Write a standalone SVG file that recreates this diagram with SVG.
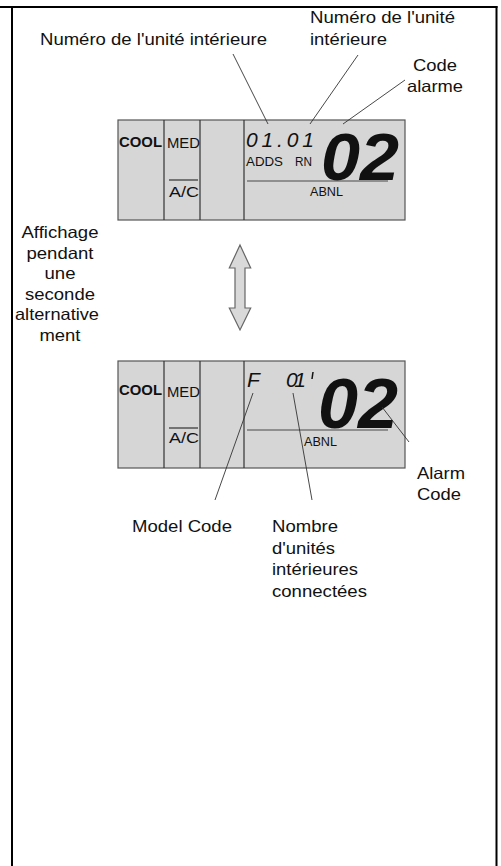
<svg xmlns="http://www.w3.org/2000/svg" width="501" height="866" viewBox="0 0 501 866">
<style>
.lbl{font-family:"Liberation Sans",Arial,sans-serif;font-size:16.5px;fill:#111}
.lcd{fill:#d6d6d6;stroke:#555;stroke-width:1.2}
.div{stroke:#333;stroke-width:1.2;fill:none}
.hl{stroke:#777;stroke-width:1.5}
.t{font-family:"Liberation Sans",Arial,sans-serif;fill:#111}
.seg{font-family:"Liberation Sans",Arial,sans-serif;font-style:italic;fill:#111}
.lead{stroke:#333;stroke-width:0.9;fill:none}
</style>
<rect width="501" height="866" fill="#fff"/>
<g id="frame" stroke="#000" stroke-width="2" fill="none">
<line x1="0" y1="7" x2="497.5" y2="7"/>
<line x1="12" y1="6" x2="12" y2="866"/>
<line x1="496.5" y1="6" x2="496.5" y2="866"/>
</g>
<g id="lcd-top">
<rect class="lcd" x="118" y="120" width="287" height="100"/>
<line class="div" x1="164" y1="120" x2="164" y2="220"/>
<line class="div" x1="200" y1="120" x2="200" y2="220"/>
<line class="div" x1="244" y1="120" x2="244" y2="220"/>
<line class="hl" x1="247" y1="181" x2="388" y2="181"/>
<text class="t" x="119" y="147" font-size="15" font-weight="bold" textLength="43" lengthAdjust="spacingAndGlyphs">COOL</text>
<text class="t" x="167" y="148" font-size="15" textLength="33" lengthAdjust="spacingAndGlyphs">MED</text>
<line x1="169" y1="180" x2="198" y2="180" stroke="#111" stroke-width="1"/>
<text class="t" x="169" y="197" font-size="15" textLength="30" lengthAdjust="spacingAndGlyphs">A/C</text>
<text class="t" x="246" y="166" font-size="13" textLength="37" lengthAdjust="spacingAndGlyphs">ADDS</text>
<text class="t" x="295" y="166" font-size="13" textLength="17" lengthAdjust="spacingAndGlyphs">RN</text>
<text class="t" x="310" y="196" font-size="13" textLength="33" lengthAdjust="spacingAndGlyphs">ABNL</text>
<text class="seg" x="246" y="147" font-size="21" textLength="68" lengthAdjust="spacing">01.01</text>
<text class="seg" x="321" y="180" font-size="67" font-weight="bold" textLength="78" lengthAdjust="spacingAndGlyphs">02</text>
</g>
<g id="lcd-bottom">
<rect class="lcd" x="118" y="361" width="287" height="107"/>
<line class="div" x1="164" y1="361" x2="164" y2="468"/>
<line class="div" x1="200" y1="361" x2="200" y2="468"/>
<line class="div" x1="244" y1="361" x2="244" y2="468"/>
<line class="hl" x1="247" y1="430" x2="388" y2="430"/>
<text class="t" x="119" y="395" font-size="15" font-weight="bold" textLength="43" lengthAdjust="spacingAndGlyphs">COOL</text>
<text class="t" x="167" y="397" font-size="15" textLength="33" lengthAdjust="spacingAndGlyphs">MED</text>
<line x1="169" y1="428" x2="198" y2="428" stroke="#111" stroke-width="1"/>
<text class="t" x="169" y="443" font-size="15" textLength="30" lengthAdjust="spacingAndGlyphs">A/C</text>
<text class="t" x="304" y="446" font-size="13" textLength="33" lengthAdjust="spacingAndGlyphs">ABNL</text>
<text class="seg" x="247" y="387" font-size="21">F</text>
<text class="seg" x="286" y="387" font-size="21" textLength="20" lengthAdjust="spacing">01</text>
<line x1="313" y1="372" x2="312" y2="379" stroke="#111" stroke-width="1.5"/>
<text class="seg" x="318" y="428" font-size="70" font-weight="bold" textLength="80" lengthAdjust="spacingAndGlyphs">02</text>
</g>
<g id="arrow">
<polygon points="240,245 250.7,268 245,268 245,308 250.7,308 240,330 229.3,308 235,308 235,268 229.3,268" fill="#d9d9d9" stroke="#666" stroke-width="1.2" stroke-linejoin="miter"/>
</g>
<g id="labels">
<text class="lbl" x="40" y="45" textLength="227" lengthAdjust="spacingAndGlyphs">Numéro de l'unité intérieure</text>
<text class="lbl" x="310" y="23" textLength="145" lengthAdjust="spacingAndGlyphs">Numéro de l'unité</text>
<text class="lbl" x="310" y="45" textLength="77" lengthAdjust="spacingAndGlyphs">intérieure</text>
<text class="lbl" x="435" y="71" text-anchor="middle" textLength="44" lengthAdjust="spacingAndGlyphs">Code</text>
<text class="lbl" x="435" y="92" text-anchor="middle" textLength="56" lengthAdjust="spacingAndGlyphs">alarme</text>
<text class="lbl" x="60" y="238" text-anchor="middle" textLength="77" lengthAdjust="spacingAndGlyphs">Affichage</text>
<text class="lbl" x="60" y="259" text-anchor="middle" textLength="67" lengthAdjust="spacingAndGlyphs">pendant</text>
<text class="lbl" x="60" y="279" text-anchor="middle" textLength="31" lengthAdjust="spacingAndGlyphs">une</text>
<text class="lbl" x="60" y="300" text-anchor="middle" textLength="70" lengthAdjust="spacingAndGlyphs">seconde</text>
<text class="lbl" x="57" y="320" text-anchor="middle" textLength="84" lengthAdjust="spacingAndGlyphs">alternative</text>
<text class="lbl" x="60" y="341" text-anchor="middle" textLength="41" lengthAdjust="spacingAndGlyphs">ment</text>
<text class="lbl" x="417" y="479" textLength="48" lengthAdjust="spacingAndGlyphs">Alarm</text>
<text class="lbl" x="417" y="500" textLength="44" lengthAdjust="spacingAndGlyphs">Code</text>
<text class="lbl" x="132" y="532" textLength="100" lengthAdjust="spacingAndGlyphs">Model Code</text>
<text class="lbl" x="272" y="532" textLength="66" lengthAdjust="spacingAndGlyphs">Nombre</text>
<text class="lbl" x="272" y="554" textLength="63" lengthAdjust="spacingAndGlyphs">d'unités</text>
<text class="lbl" x="272" y="575" textLength="86" lengthAdjust="spacingAndGlyphs">intérieures</text>
<text class="lbl" x="272" y="597" textLength="95" lengthAdjust="spacingAndGlyphs">connectées</text>
</g>
<g id="connectors">
<line class="lead" x1="233" y1="54" x2="268" y2="124"/>
<line class="lead" x1="358" y1="55" x2="310" y2="124"/>
<line class="lead" x1="405" y1="80" x2="343" y2="124"/>
<line class="lead" x1="253" y1="393" x2="215" y2="500"/>
<line class="lead" x1="293" y1="393" x2="312" y2="500"/>
<line class="lead" x1="382" y1="407" x2="409" y2="442"/>
</g>
</svg>
